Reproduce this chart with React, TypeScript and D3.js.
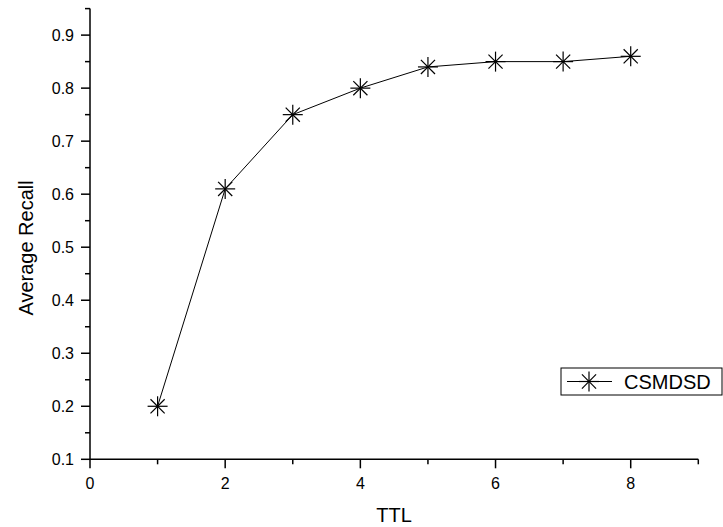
import React from "react";
import * as d3 from "d3";

const ttl = [1, 2, 3, 4, 5, 6, 7, 8];
const recall = [0.2, 0.61, 0.75, 0.8, 0.84, 0.85, 0.85, 0.86];
const xMajorTicks = [0, 2, 4, 6, 8];
const xMinorTicks = [1, 3, 5, 7, 9];
const yMajorTicks = [0.1, 0.2, 0.3, 0.4, 0.5, 0.6, 0.7, 0.8, 0.9];
const yMinorTicks = [0.15, 0.25, 0.35, 0.45, 0.55, 0.65, 0.75, 0.85, 0.95];
const seriesName = "CSMDSD";

const W = 723;
const H = 527;
const left = 90;
const right = 698.3;
const top = 8.6;
const bottom = 459.3;
const font = "'Liberation Sans', Arial, sans-serif";

function Star({ cx, cy, r }: { cx: number; cy: number; r: number }) {
  const d = r * Math.SQRT1_2;
  return (
    <g stroke="#000" strokeWidth={1.2}>
      <line x1={cx - r} y1={cy} x2={cx + r} y2={cy} />
      <line x1={cx} y1={cy - r} x2={cx} y2={cy + r} />
      <line x1={cx - d} y1={cy - d} x2={cx + d} y2={cy + d} />
      <line x1={cx - d} y1={cy + d} x2={cx + d} y2={cy - d} />
    </g>
  );
}

export default function App() {
  const x = d3.scaleLinear().domain([0, 9]).range([left, right]);
  const y = d3.scaleLinear().domain([0.1, 0.95]).range([bottom, top]);
  const line = d3
    .line<number>()
    .x((_, i) => x(ttl[i]))
    .y((v) => y(v));

  return (
    <svg
      width={W}
      height={H}
      style={{ position: "absolute", left: 0, top: 0, background: "#fff" }}
      fontFamily={font}
    >
      <rect width={W} height={H} fill="#fff" />
      {/* axes */}
      <line x1={left} y1={top} x2={left} y2={bottom} stroke="#000" strokeWidth={1.5} />
      <line x1={left} y1={bottom} x2={right} y2={bottom} stroke="#000" strokeWidth={1.5} />
      {yMajorTicks.map((t) => (
        <g key={"ym" + t}>
          <line x1={left - 9} x2={left} y1={y(t)} y2={y(t)} stroke="#000" strokeWidth={1.5} />
          <text x={left - 16} y={y(t)} dy="0.35em" textAnchor="end" fontSize={16}>
            {d3.format(".1f")(t)}
          </text>
        </g>
      ))}
      {yMinorTicks.map((t) => (
        <line key={"yn" + t} x1={left - 5} x2={left} y1={y(t)} y2={y(t)} stroke="#000" strokeWidth={1.5} />
      ))}
      {xMajorTicks.map((t) => (
        <g key={"xm" + t}>
          <line x1={x(t)} x2={x(t)} y1={bottom} y2={bottom + 9} stroke="#000" strokeWidth={1.5} />
          <text x={x(t)} y={489} textAnchor="middle" fontSize={16}>
            {t}
          </text>
        </g>
      ))}
      {xMinorTicks.map((t) => (
        <line key={"xn" + t} x1={x(t)} x2={x(t)} y1={bottom} y2={bottom + 5} stroke="#000" strokeWidth={1.5} />
      ))}
      <text x={(left + right) / 2} y={522} textAnchor="middle" fontSize={20}>
        TTL
      </text>
      <text
        transform={`translate(33, ${(top + bottom) / 2 + 14}) rotate(-90)`}
        textAnchor="middle"
        fontSize={20}
      >
        Average Recall
      </text>
      {/* series */}
      <path d={line(recall) || ""} fill="none" stroke="#000" strokeWidth={1} />
      {recall.map((v, i) => (
        <Star key={i} cx={x(ttl[i])} cy={y(v)} r={10} />
      ))}
      {/* legend */}
      <rect x={561} y={368} width={161} height={27} fill="#fff" stroke="#000" strokeWidth={1} />
      <line x1={567} x2={612} y1={381.5} y2={381.5} stroke="#000" strokeWidth={1} />
      <Star cx={589} cy={381.5} r={10} />
      <text x={624} y={381.5} dy="0.35em" fontSize={20}>
        {seriesName}
      </text>
    </svg>
  );
}
